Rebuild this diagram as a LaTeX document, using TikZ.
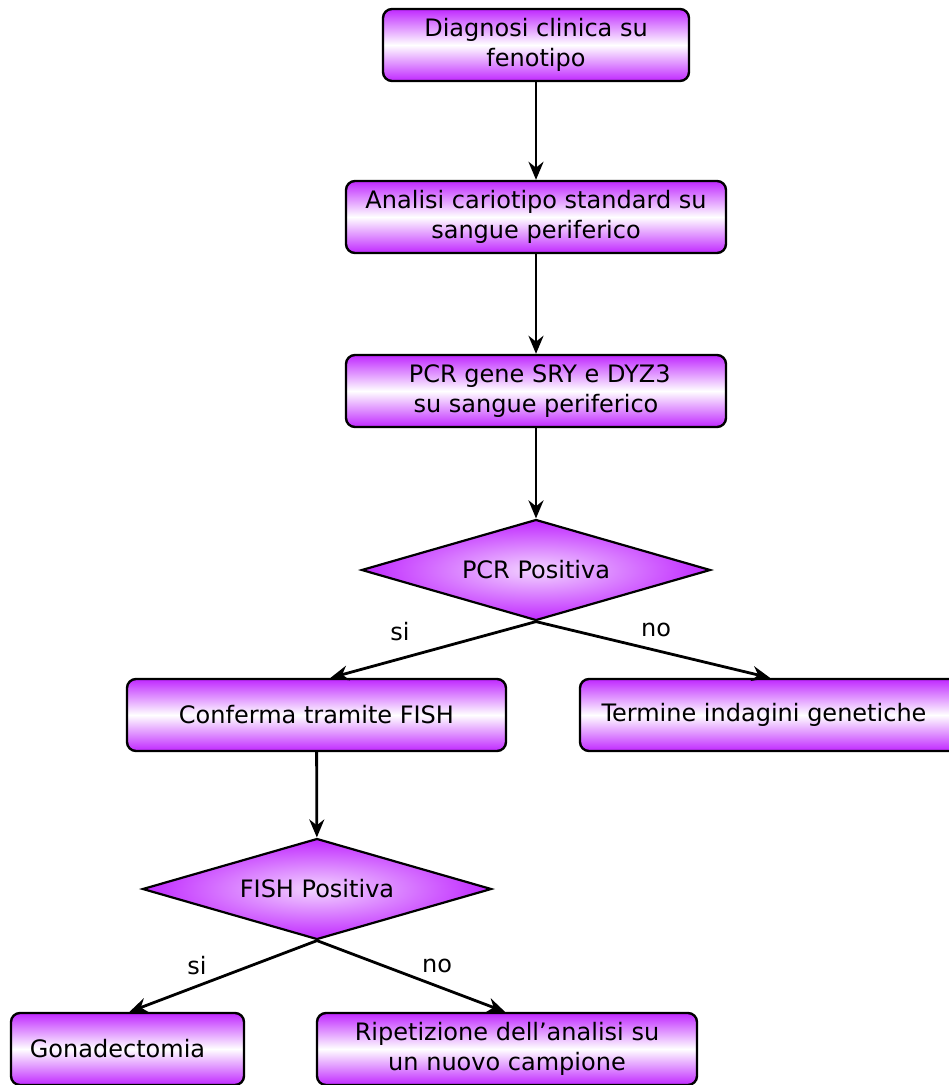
\documentclass[tikz,border=0pt]{standalone}
\usepackage{fontspec}
\setmainfont{DejaVu Sans}
\usetikzlibrary{shapes.geometric,arrows.meta}
\definecolor{vio}{RGB}{192,40,255}
\tikzset{
  stepbox/.style={draw=black, line width=2.4pt, rounded corners=9pt,
    top color=vio, bottom color=vio, middle color=white,
    minimum height=72pt, align=center, inner sep=0pt,
    font=\fontsize{24}{30}\selectfont},
  choice/.style={draw=black, line width=2.2pt, diamond, aspect=3.46,
    inner sep=0pt, minimum width=349pt, minimum height=101pt,
    inner color=white!80!vio, outer color=vio,
    font=\fontsize{24}{29}\selectfont},
  link/.style={line width=2.8pt, -{Stealth[length=18pt,width=15pt]}},
  tag/.style={font=\fontsize{24}{29}\selectfont}
}
\begin{document}
\begin{tikzpicture}[x=1pt,y=-1pt]
\clip (0,0) rectangle (949,1085);
\fill[white] (0,0) rectangle (949,1085);

% main column
\node[stepbox, minimum width=306pt] (b1) at (536,45) {Diagnosi clinica su\\fenotipo};
\node[stepbox, minimum width=380pt] (b2) at (536,217) {Analisi cariotipo standard su\\sangue periferico};
\node[stepbox, minimum width=380pt] (b3) at (536,391) {\ PCR gene SRY e DYZ3\\su sangue periferico};
\node[choice] (d1) at (536,570) {PCR Positiva};

% first branch
\node[stepbox, minimum width=379pt] (b4) at (316.5,715) {Conferma tramite FISH};
\node[stepbox, minimum width=380pt] (b5) at (770,715) {Termine indagini genetiche\hspace*{12pt}};
\node[choice] (d2) at (317,889) {FISH Positiva};

% second branch
\node[stepbox, minimum width=233pt] (b6) at (127.5,1049) {Gonadectomia\hspace*{20pt}};
\node[stepbox, minimum width=380pt] (b7) at (507,1049) {Ripetizione dell’analisi su\\un nuovo campione};

% connectors
\draw[link] (b1) -- (b2);
\draw[link] (b2) -- (b3);
\draw[link] (b3) -- (d1);
\draw[link] (d1.south) -- ([xshift=14pt]b4.north);
\draw[link] (d1.south) -- (b5.north);
\draw[link] (b4) -- (d2);
\draw[link] (d2.south) -- ([xshift=2pt]b6.north);
\draw[link] (d2.south) -- ([xshift=-2pt]b7.north);

% branch labels
\node[tag] (s1) at (400,632) {si};
\node[tag] (n1) at (656,630) {no};
\node[tag] (s2) at (197,966) {si};
\node[tag] (n2) at (437,966) {no};
\end{tikzpicture}
\end{document}
